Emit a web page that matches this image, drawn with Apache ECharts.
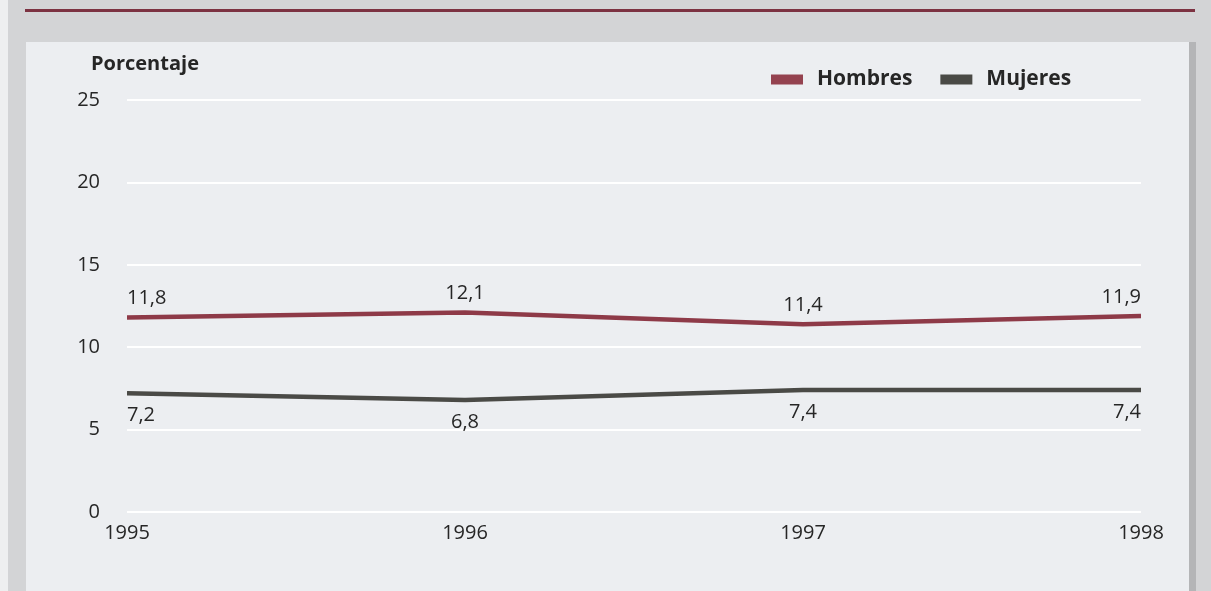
<!DOCTYPE html>
<html>
<head>
<meta charset="utf-8">
<script src="https://cdn.jsdelivr.net/npm/echarts@6/dist/echarts.min.js"></script>
<style>
  html, body { margin: 0; padding: 0; background: #d3d4d6; }
  #chart { width: 1211px; height: 591px; }
</style>
</head>
<body>
<div id="chart"></div>
<script>
// Años y porcentajes por sexo
const years = ['1995', '1996', '1997', '1998'];
const hombres = [11.8, 12.1, 11.4, 11.9];
const mujeres = [7.2, 6.8, 7.4, 7.4];
const yTicks = { min: 0, max: 25, interval: 5 };

const FONT = '"Open Sans", "Noto Sans", sans-serif';
const TEXT = '#262626';

// first label sits to the right of its point, last one to the left
function withEdgeAlign(values) {
  return values.map((v, i) => {
    const item = { value: v };
    if (i === 0) item.label = { align: 'left' };
    if (i === values.length - 1) item.label = { align: 'right' };
    return item;
  });
}

const valueLabel = p => String(p.value).replace('.', ',');

const chart = echarts.init(document.getElementById('chart'), null, { renderer: 'canvas' });

chart.setOption({
  backgroundColor: '#d3d4d6',
  animation: false,
  graphic: [
    { type: 'rect', silent: true, z: -10, shape: { x: 0, y: 0, width: 8, height: 591 }, style: { fill: '#eeeff0' } },
    { type: 'rect', silent: true, z: -10, shape: { x: 26, y: 42, width: 1163, height: 560 }, style: { fill: '#eceef1' } },
    { type: 'rect', silent: true, z: -10, shape: { x: 1189, y: 42, width: 7, height: 560 }, style: { fill: '#b4b5b7' } },
    { type: 'rect', silent: true, z: -10, shape: { x: 25, y: 9, width: 1170, height: 3 }, style: { fill: '#7c3242' } }
  ],
  title: {
    text: 'Porcentaje',
    left: 86,
    top: 49,
    textStyle: { fontFamily: FONT, fontSize: 20, fontWeight: 'bold', color: TEXT }
  },
  legend: {
    left: 766,
    top: 64,
    itemWidth: 32,
    itemHeight: 10,
    itemGap: 28,
    icon: 'rect',
    textStyle: { fontFamily: FONT, fontSize: 21, fontWeight: 'bold', color: TEXT, padding: [0, 0, 0, 9] },
    data: [
      { name: 'Hombres', itemStyle: { color: '#94424f' } },
      { name: 'Mujeres', itemStyle: { color: '#4a4a46' } }
    ]
  },
  grid: { left: 127, right: 70, top: 100, bottom: 79 },
  xAxis: {
    type: 'category',
    data: years,
    boundaryGap: false,
    axisLine: { show: false },
    axisTick: { show: false },
    axisLabel: { margin: 11, fontFamily: FONT, fontSize: 20, color: TEXT }
  },
  yAxis: {
    type: 'value',
    min: yTicks.min,
    max: yTicks.max,
    interval: yTicks.interval,
    axisLine: { show: false },
    axisTick: { show: false },
    axisLabel: { margin: 27, fontFamily: FONT, fontSize: 20, color: TEXT },
    splitLine: { lineStyle: { color: '#ffffff', width: 2 } }
  },
  series: [
    {
      name: 'Hombres',
      type: 'line',
      data: withEdgeAlign(hombres),
      symbol: 'circle',
      symbolSize: 0.1,
      lineStyle: { color: '#8e3a48', width: 4.5 },
      itemStyle: { color: '#8e3a48' },
      label: {
        show: true,
        position: 'top',
        distance: 9,
        fontFamily: FONT,
        fontSize: 20,
        color: TEXT,
        formatter: valueLabel
      }
    },
    {
      name: 'Mujeres',
      type: 'line',
      data: withEdgeAlign(mujeres),
      symbol: 'circle',
      symbolSize: 0.1,
      lineStyle: { color: '#4a4a46', width: 4.5 },
      itemStyle: { color: '#4a4a46' },
      label: {
        show: true,
        position: 'bottom',
        distance: 12,
        fontFamily: FONT,
        fontSize: 20,
        color: TEXT,
        formatter: valueLabel
      }
    }
  ]
});
</script>
</body>
</html>
